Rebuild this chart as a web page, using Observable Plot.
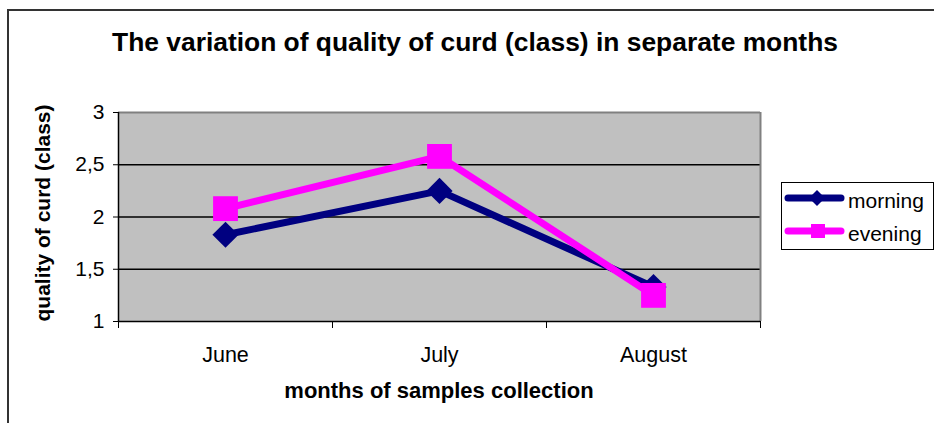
<!DOCTYPE html>
<html>
<head>
<meta charset="utf-8">
<script src="https://cdn.jsdelivr.net/npm/d3@7"></script>
<script src="https://cdn.jsdelivr.net/npm/@observablehq/plot@0.6"></script>
<style>
  html, body { margin: 0; padding: 0; background: #fff; }
  #wrap { position: relative; width: 934px; height: 423px; overflow: hidden; font-family: "Liberation Sans", Arial, sans-serif; }
  #wrap > svg { position: absolute; left: 0; top: 0; }
</style>
</head>
<body>
<div id="wrap"></div>
<script>
const months = ["June", "July", "August"];
const morning = [1.83, 2.25, 1.33];
const evening = [2.08, 2.58, 1.25];
const yTicks = [1, 1.5, 2, 2.5, 3];
const seriesNames = ["morning", "evening"];
const seriesColors = ["#000080", "#FF00FF"];
const titleText = "The variation of quality of curd (class) in separate months";
const xTitle = "months of samples collection";
const yTitle = "quality of curd (class)";

const morningData = months.map((m, i) => ({i, month: m, value: morning[i]}));
const eveningData = months.map((m, i) => ({i, month: m, value: evening[i]}));

const wrap = document.getElementById("wrap");

// outer chart border
const bgLayer = d3.create("svg").attr("width", 934).attr("height", 423);
bgLayer.append("rect").attr("x", 8).attr("y", 10).attr("width", 1000).attr("height", 1000)
  .attr("fill", "#fff").attr("stroke", "#333").attr("stroke-width", 2);
wrap.appendChild(bgLayer.node());

const chart = Plot.plot({
  width: 934,
  height: 423,
  marginLeft: 118,
  marginRight: 174,
  marginTop: 112,
  marginBottom: 102,
  style: {fontFamily: "'Liberation Sans', Arial, sans-serif", fontSize: "21px", color: "#000", background: "transparent", overflow: "visible"},
  x: {type: "linear", domain: [-0.5, months.length - 0.5]},
  y: {domain: [yTicks[0], yTicks[yTicks.length - 1]]},
  marks: [
    Plot.frame({fill: "#c0c0c0"}),
    Plot.ruleY(yTicks.slice(1, -1), {stroke: "#000", strokeWidth: 1.3}),
    Plot.ruleY([yTicks[yTicks.length - 1]], {stroke: "#808080", strokeWidth: 2}),
    Plot.ruleX([months.length - 0.5], {stroke: "#808080", strokeWidth: 2}),
    Plot.ruleX([-0.5], {stroke: "#000", strokeWidth: 1.5}),
    Plot.ruleY([yTicks[0]], {stroke: "#000", strokeWidth: 1.5}),
    Plot.axisY({ticks: yTicks, tickSize: 5, tickPadding: 9, tickFormat: d => String(d).replace(".", ","), label: null, fontSize: 21}),
    Plot.axisX({ticks: d3.range(months.length + 1).map(k => k - 0.5), tickSize: 7, tickFormat: () => "", label: null}),
    Plot.axisX({ticks: d3.range(months.length), tickSize: 0, tickPadding: 25, tickFormat: i => months[i], label: null, fontSize: 21.5}),
    Plot.line(morningData, {x: "i", y: "value", stroke: seriesColors[0], strokeWidth: 7, strokeLinejoin: "miter"}),
    Plot.dot(morningData, {x: "i", y: "value", symbol: "diamond2", r: 11.8, fill: seriesColors[0], stroke: "none"}),
    Plot.line(eveningData, {x: "i", y: "value", stroke: seriesColors[1], strokeWidth: 7, strokeLinejoin: "miter"}),
    Plot.dot(eveningData, {x: "i", y: "value", symbol: "square", r: 14, fill: seriesColors[1], stroke: "none"})
  ]
});
wrap.appendChild(chart);

// titles and legend
const fg = d3.create("svg").attr("width", 934).attr("height", 423)
  .style("font-family", "'Liberation Sans', Arial, sans-serif");
fg.append("text").attr("x", 475).attr("y", 51).attr("text-anchor", "middle")
  .attr("font-size", 26.4).attr("font-weight", "bold").text(titleText);
fg.append("text").attr("x", 439).attr("y", 398).attr("text-anchor", "middle")
  .attr("font-size", 22).attr("font-weight", "bold").text(xTitle);
fg.append("text").attr("transform", "translate(50,213) rotate(-90)").attr("text-anchor", "middle")
  .attr("font-size", 21).attr("font-weight", "bold").text(yTitle);

const lg = fg.append("g").attr("transform", "translate(781,182)");
lg.append("rect").attr("x", 0.5).attr("y", 0.5).attr("width", 152).attr("height", 67)
  .attr("fill", "#fff").attr("stroke", "#000").attr("stroke-width", 1);
seriesNames.forEach((name, k) => {
  const y = k === 0 ? 16 : 49;
  const g = lg.append("g");
  g.append("line").attr("x1", 7).attr("x2", 60).attr("y1", y).attr("y2", y)
    .attr("stroke", seriesColors[k]).attr("stroke-width", 7).attr("stroke-linecap", "round");
  if (k === 0) {
    g.append("path").attr("d", `M36,${y - 8}L44,${y}L36,${y + 8}L28,${y}Z`).attr("fill", seriesColors[k]);
  } else {
    g.append("rect").attr("x", 30).attr("y", y - 7).attr("width", 14).attr("height", 14).attr("fill", seriesColors[k]);
  }
  g.append("text").attr("x", 67).attr("y", y + 10).attr("font-size", 21).text(name);
});
wrap.appendChild(fg.node());
</script>
</body>
</html>
